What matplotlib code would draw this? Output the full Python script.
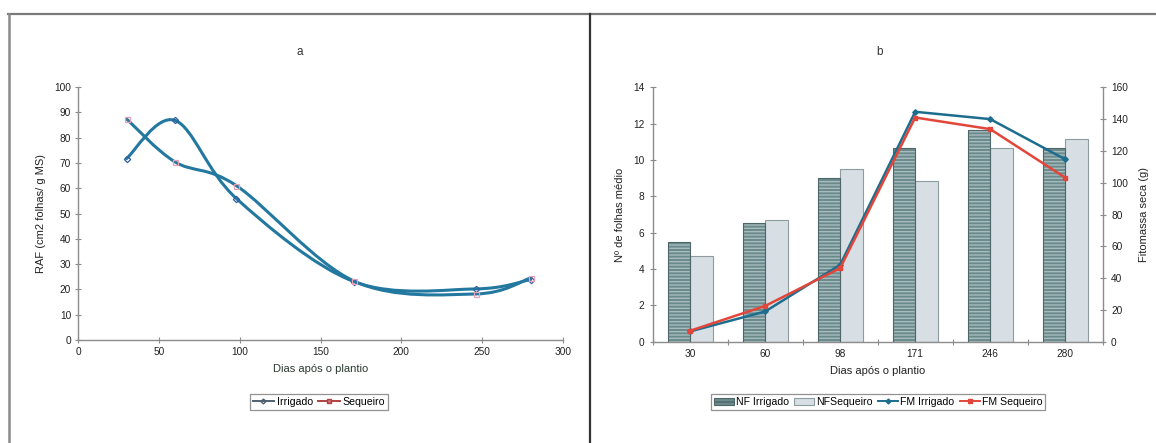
import numpy as np
import matplotlib
matplotlib.use("Agg")
import matplotlib.pyplot as plt
from matplotlib.path import Path
from matplotlib.patches import PathPatch, Patch
from matplotlib.lines import Line2D

plt.rcParams['font.family'] = ['Liberation Sans', 'DejaVu Sans']

# ---- data ----
dias = [30, 60, 98, 171, 246, 280]
raf_irrigado = [71.7, 86.8, 55.9, 23.0, 20.2, 23.9]
raf_sequeiro = [87.4, 70.4, 61.0, 23.2, 18.2, 24.5]

cat_labels = ['30', '60', '98', '171', '246', '280']
nf_irrigado = [5.5, 6.55, 9.0, 10.65, 11.65, 10.65]
nf_sequeiro = [4.7, 6.7, 9.5, 8.85, 10.65, 11.15]
fm_irrigado = [6.5, 19.0, 48.4, 144.6, 140.0, 114.7]
fm_sequeiro = [6.9, 22.5, 46.3, 141.0, 133.7, 103.2]

W, H = 1156, 443
fig = plt.figure(figsize=(W / 100, H / 100), dpi=100)
fig.patch.set_facecolor('white')

def fx(px):
    return px / W

def fy(py):
    return 1 - py / H

# panel frame
fig.add_artist(Line2D([fx(8), fx(1156)], [fy(13.5), fy(13.5)], color='#7a7a7a', lw=1.6))
fig.add_artist(Line2D([fx(9), fx(9)], [fy(13.5), fy(443)], color='#8a8a8a', lw=1.8))
fig.add_artist(Line2D([fx(590), fx(590)], [fy(13.5), fy(443)], color='#333333', lw=1.6))

axis_grey = '#8c8c8c'
tick_fs = 7.3
label_fs = 8.0
legend_fs = 7.6
text_col = '#222222'


def smooth_path(xs, ys):
    """Bezier spline through the points, in the style of spreadsheet smoothed lines."""
    pts = np.column_stack([xs, ys]).astype(float)
    n = len(pts)
    verts = [pts[0]]
    codes = [Path.MOVETO]
    for i in range(n - 1):
        p0 = pts[i - 1] if i > 0 else pts[i]
        p1 = pts[i]
        p2 = pts[i + 1]
        p3 = pts[i + 2] if i + 2 < n else pts[i + 1]
        c1 = p1 + (p2 - p0) / 6.0
        c2 = p2 - (p3 - p1) / 6.0
        verts += [c1, c2, p2]
        codes += [Path.CURVE4] * 3
    return Path(verts, codes)


# ---------------- panel a ----------------
axa = fig.add_axes([fx(78), fy(340), fx(563) - fx(78), fy(87) - fy(340)])
line_blue = '#2378a0'
for ys in (raf_irrigado, raf_sequeiro):
    axa.add_patch(PathPatch(smooth_path(dias, ys), facecolor='none',
                            edgecolor=line_blue, lw=2.2, capstyle='round'))
axa.plot(dias, raf_irrigado, ls='none', marker='D', ms=3.2, mfc='none',
         mec='#3060a0', mew=0.9)
axa.plot(dias, raf_sequeiro, ls='none', marker='s', ms=3.6, mfc='none',
         mec='#e8a0b4', mew=0.9)
axa.set_xlim(0, 300)
axa.set_ylim(0, 100)
axa.set_xticks(np.arange(0, 301, 50))
axa.set_yticks(np.arange(0, 101, 10))
for s in ('top', 'right'):
    axa.spines[s].set_visible(False)
for s in ('left', 'bottom'):
    axa.spines[s].set_color(axis_grey)
    axa.spines[s].set_linewidth(1.0)
axa.tick_params(direction='inout', length=4, width=0.8, color=axis_grey,
                labelsize=tick_fs, labelcolor=text_col, pad=3)
axa.set_xlabel('Dias após o plantio', fontsize=label_fs, color='#2a3a30', labelpad=5)
axa.set_ylabel('RAF (cm2 folhas/ g MS)', fontsize=label_fs, color=text_col, labelpad=6)
fig.text(fx(300), fy(52), 'a', fontsize=8.5, ha='center', va='center', color='#333333')

hA = [Line2D([], [], color='#506070', lw=1.4, marker='D', ms=2.5, mfc='none', mec='#506070'),
      Line2D([], [], color='#b04040', lw=1.4, marker='s', ms=3, mfc='#d07070', mec='#b04040')]
lga = axa.legend(hA, ['Irrigado', 'Sequeiro'], loc='center',
                 bbox_to_anchor=((319 - 78) / (563 - 78), -(402 - 340) / (340 - 87)),
                 ncol=2, fontsize=legend_fs, frameon=True, fancybox=False, handlelength=2.0,
                 handletextpad=0.3, columnspacing=0.5, borderpad=0.3, borderaxespad=0)
lga.get_frame().set_edgecolor('#777777')
lga.get_frame().set_linewidth(0.9)

# ---------------- panel b ----------------
axb = fig.add_axes([fx(652.7), fy(341.7), 450 / W, fy(87.3) - fy(341.7)])
x = np.arange(len(cat_labels))
bw = 0.3
irr_face = '#6b8a8c'
irr_hatch = '#a8bcbe'
irr_edge = '#4f6668'
seq_face = '#d7dfe4'
seq_edge = '#8e9ca2'

axb.bar(x - bw / 2, nf_irrigado, width=bw, color=irr_face, edgecolor=irr_hatch,
        hatch='-----', linewidth=0, zorder=2)
axb.bar(x - bw / 2, nf_irrigado, width=bw, fill=False, edgecolor=irr_edge,
        linewidth=0.8, zorder=3)
axb.bar(x + bw / 2, nf_sequeiro, width=bw, color=seq_face, edgecolor=seq_edge,
        linewidth=0.8, zorder=2)

axb.set_xlim(-0.5, len(cat_labels) - 0.5)
axb.set_ylim(0, 14)
axb.set_yticks(np.arange(0, 15, 2))
axb.set_xticks(np.arange(-0.5, len(cat_labels), 1.0))
axb.set_xticklabels([])
axb.set_xticks(x, minor=True)
axb.set_xticklabels(cat_labels, minor=True)
axb.tick_params(axis='x', which='minor', length=0, labelsize=tick_fs,
                labelcolor=text_col, pad=5)
axb.tick_params(axis='x', which='major', direction='inout', length=4, width=0.8,
                color=axis_grey)
axb.tick_params(axis='y', direction='inout', length=4, width=0.8, color=axis_grey,
                labelsize=tick_fs, labelcolor=text_col, pad=4)
for s in ('top', 'right'):
    axb.spines[s].set_visible(False)
for s in ('left', 'bottom'):
    axb.spines[s].set_color(axis_grey)
    axb.spines[s].set_linewidth(1.0)
axb.set_xlabel('Dias após o plantio', fontsize=label_fs, color=text_col, labelpad=5)
axb.set_ylabel('Nº de folhas médio', fontsize=label_fs, color=text_col, labelpad=6)

axr = axb.twinx()
fm_irr_col = '#1d6e8e'
fm_seq_col = '#e2463a'
axr.plot(x, fm_irrigado, color=fm_irr_col, lw=1.8, marker='D', ms=2.8,
         mfc=fm_irr_col, mec=fm_irr_col, zorder=4)
axr.plot(x, fm_sequeiro, color=fm_seq_col, lw=1.8, marker='s', ms=3.2,
         mfc=fm_seq_col, mec=fm_seq_col, zorder=5)
axr.set_ylim(0, 160)
axr.set_yticks(np.arange(0, 161, 20))
for s in ('top', 'left', 'bottom'):
    axr.spines[s].set_visible(False)
axr.spines['right'].set_color(axis_grey)
axr.spines['right'].set_linewidth(1.0)
axr.tick_params(axis='y', direction='inout', length=4, width=0.8, color=axis_grey,
                labelsize=tick_fs, labelcolor=text_col, pad=4)
axr.set_ylabel('Fitomassa seca (g)', fontsize=label_fs, color=text_col, labelpad=8)

hB = [Patch(facecolor=irr_face, edgecolor=irr_edge, hatch='----', linewidth=0.8),
      Patch(facecolor=seq_face, edgecolor=seq_edge, linewidth=0.8),
      Line2D([], [], color=fm_irr_col, lw=1.4, marker='D', ms=2.5),
      Line2D([], [], color=fm_seq_col, lw=1.4, marker='s', ms=3)]
lgb = axb.legend(hB, ['NF Irrigado', 'NFSequeiro', 'FM Irrigado', 'FM Sequeiro'],
                 loc='center', bbox_to_anchor=((878 - 652.7) / 450, -(402 - 341.7) / 254.4),
                 ncol=4, fontsize=legend_fs, frameon=True, fancybox=False, handlelength=1.9,
                 handleheight=0.6, handletextpad=0.2, columnspacing=0.5,
                 borderpad=0.3, borderaxespad=0)
lgb.get_frame().set_edgecolor('#777777')
lgb.get_frame().set_linewidth(0.9)
fig.text(fx(880), fy(52), 'b', fontsize=8.5, ha='center', va='center', color='#333333')

fig.savefig('out.png', dpi=100, facecolor='white')
